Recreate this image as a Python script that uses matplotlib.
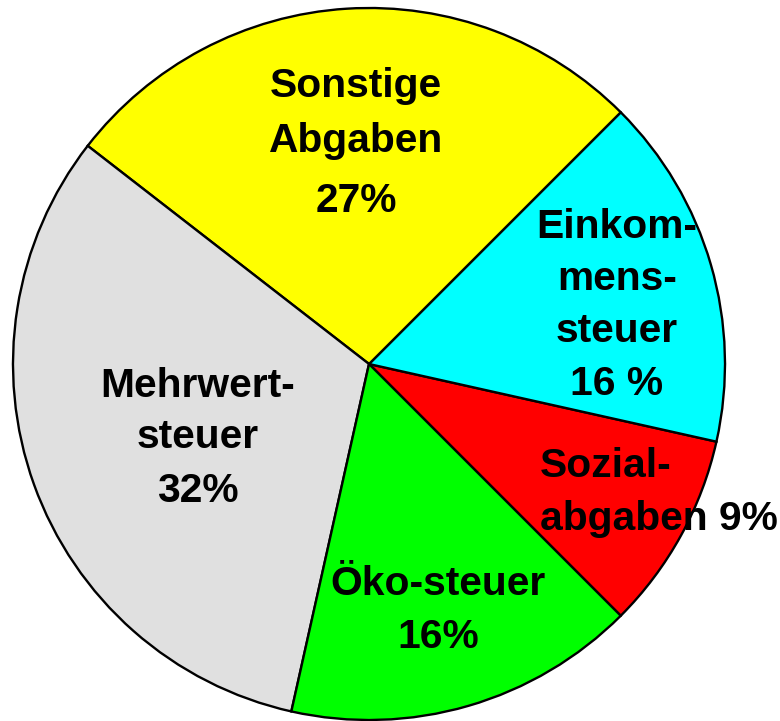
import matplotlib
matplotlib.use("Agg")
import matplotlib.pyplot as plt

# Data (order counter-clockwise starting at the lower right)
categories = ["Sozialabgaben", "Einkommensteuer", "Sonstige Abgaben", "Mehrwertsteuer", "Ökosteuer"]
shares = [9, 16, 27, 32, 16]
colors = ["#FF0000", "#00FFFF", "#FFFF00", "#E0E0E0", "#00FF00"]

# Label lines per slice
label_lines = {
    "Sonstige Abgaben": ["Sonstige", "Abgaben", "27%"],
    "Einkommensteuer": ["Einkom-", "mens-", "steuer", "16 %"],
    "Sozialabgaben": ["Sozial-", "abgaben 9%"],
    "Ökosteuer": ["Öko-steuer", "16%"],
    "Mehrwertsteuer": ["Mehrwert-", "steuer", "32%"],
}
label_pos = {
    "Sonstige Abgaben": (356, [97, 152, 212], "center"),
    "Einkommensteuer": (617, [238, 290, 342, 395], "center"),
    "Sozialabgaben": (540, [477, 530], "left"),
    "Ökosteuer": (438, [595, 648], "center"),
    "Mehrwertsteuer": (198, [397, 448, 502], "center"),
}

W, H = 780, 721
fig = plt.figure(figsize=(W / 100, H / 100), dpi=100)
ax = fig.add_axes([0, 0, 1, 1])

ax.pie(shares, colors=colors, startangle=-45, counterclock=True,
       center=(369, H - 364), radius=356,
       wedgeprops=dict(edgecolor="black", linewidth=1.7))

ax.set_xlim(0, W)
ax.set_ylim(0, H)
ax.set_aspect("equal")
ax.axis("off")

font = dict(family=["Liberation Sans", "DejaVu Sans"], fontweight="bold", fontsize=29.3, color="black")
for cat in categories:
    x, baselines, ha = label_pos[cat]
    for line, yb in zip(label_lines[cat], baselines):
        ax.text(x, H - yb, line, ha=ha, va="baseline", **font)

fig.savefig("out.png", dpi=100)
